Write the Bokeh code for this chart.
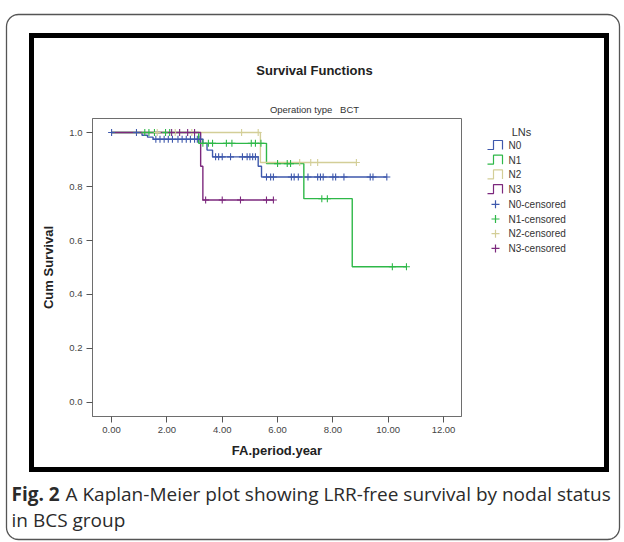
import math
from bokeh.plotting import figure
from bokeh.models import Range1d, FixedTicker, NumeralTickFormatter
from bokeh.core.properties import value
from bokeh.embed import file_html
from bokeh.resources import INLINE

# ---------------- data ----------------
groups = ["N0", "N1", "N2", "N3"]
colors = ["#3e58ac", "#2eb848", "#d3ce97", "#7c287d"]

n0_time = [0.0, 1.10, 1.30, 1.50, 3.30, 3.45, 3.65, 5.30, 5.42]
n0_surv = [1.0, 0.990, 0.983, 0.975, 0.960, 0.935, 0.910, 0.875, 0.835]
n0_end = 9.95
n0_cens = [0.0, 0.9, 1.6, 1.75, 1.9, 2.05, 2.2, 2.4, 2.55, 2.7, 2.85, 3.0,
           3.1, 3.2, 3.76, 3.87, 4.0, 4.3, 4.73, 4.9, 5.0, 5.1, 5.2,
           5.6, 5.75, 5.85, 6.5, 6.6, 6.75, 7.1, 7.45, 7.55, 7.65, 8.0,
           8.1, 8.4, 9.35, 9.45, 9.95]

n1_time = [0.0, 3.15, 5.60, 6.95, 8.70]
n1_surv = [1.0, 0.960, 0.885, 0.755, 0.503]
n1_end = 10.66
n1_cens = [1.2, 1.35, 1.55, 1.95, 2.1, 3.3, 3.5, 3.65, 4.15, 4.35, 5.05,
           5.2, 5.4, 6.0, 6.35, 6.47, 7.6, 7.8, 10.15, 10.66]

n2_time = [0.0, 5.38]
n2_surv = [1.0, 0.889]
n2_end = 8.85
n2_cens = [1.65, 2.3, 2.9, 4.7, 5.3, 6.8, 7.2, 7.45, 8.85]

n3_time = [0.0, 3.22, 3.30]
n3_surv = [1.0, 0.875, 0.75]
n3_end = 5.85
n3_cens = [2.17, 2.46, 2.75, 3.0, 3.4, 4.0, 4.66, 5.6, 5.85]

x_ticks = [0, 2, 4, 6, 8, 10, 12]
y_ticks = [0.0, 0.2, 0.4, 0.6, 0.8, 1.0]

title_text = "Survival Functions"
subtitle_text = "Operation type\u00a0\u00a0\u00a0BCT"
legend_title = "LNs"
legend_names = groups + [g + "-censored" for g in groups]
caption_bold = "Fig. 2"
caption_line1 = "A Kaplan-Meier plot showing LRR-free survival by nodal status"
caption_line2 = "in BCS group"

series = [
    (n0_time, n0_surv, n0_end, n0_cens),
    (n1_time, n1_surv, n1_end, n1_cens),
    (n2_time, n2_surv, n2_end, n2_cens),
    (n3_time, n3_surv, n3_end, n3_cens),
]


def surv_at(times, survs, t):
    s = survs[0]
    for ti, si in zip(times, survs):
        if ti <= t:
            s = si
    return s


# ---------------- chart figure ----------------
FL, FR, FT, FB = 92, 461, 118, 416   # frame edges in window pixels
W, H = 624, 542

p = figure(width=W, height=H, output_backend="svg", toolbar_location=None,
           x_range=Range1d(-0.69, 12.65), y_range=Range1d(-0.052, 1.052),
           min_border_left=FL, min_border_right=W - FR,
           min_border_top=FT, min_border_bottom=H - FB)
p.background_fill_color = "white"
p.border_fill_color = "white"
p.outline_line_color = "#6e6e6e"
p.outline_line_width = 1
p.grid.visible = False

for ax in (p.xaxis[0], p.yaxis[0]):
    ax.axis_line_color = "#6e6e6e"
    ax.major_tick_in = 0
    ax.major_tick_out = 6
    ax.major_tick_line_color = "#555555"
    ax.minor_tick_line_color = None
    ax.major_label_text_font = "Liberation Sans"
    ax.major_label_text_font_size = "9.5px"
    ax.major_label_text_color = "#444444"
    ax.axis_label_text_font = "Liberation Sans"
    ax.axis_label_text_font_size = "13px"
    ax.axis_label_text_font_style = "bold"
    ax.axis_label_text_color = "#222222"
    ax.major_label_standoff = 4

p.xaxis.ticker = FixedTicker(ticks=x_ticks)
p.xaxis.formatter = NumeralTickFormatter(format="0.00")
p.xaxis.axis_label = "FA.period.year"
p.xaxis.axis_label_standoff = 7
p.yaxis.ticker = FixedTicker(ticks=y_ticks)
p.yaxis.formatter = NumeralTickFormatter(format="0.0")
p.yaxis.axis_label = "Cum Survival"
p.yaxis.axis_label_standoff = 10

for (t, s, end, _), c in zip(series, colors):
    p.step(t + [end], s + [s[-1]], mode="after", line_color=c, line_width=1.4)
for (t, s, end, cens), c in zip(series, colors):
    cy = [surv_at(t, s, ct) for ct in cens]
    p.scatter(cens, cy, marker="cross", size=7, line_color=c, line_width=1.1)

# ---------------- overlay figure for frames, titles, legend, caption --------
# pixel-coordinate canvas laid exactly over the chart (y grows downwards)
d = figure(width=W, height=H, output_backend="svg", toolbar_location=None,
           x_range=Range1d(0, W), y_range=Range1d(H, 0),
           x_axis_type=None, y_axis_type=None, min_border=0)
d.background_fill_color = None
d.border_fill_color = None
d.outline_line_color = None
d.grid.visible = False
d.styles = {"position": "absolute", "left": "0px", "top": "0px",
            "pointer-events": "none"}


def rounded(l, r, t, b, rad, n=8):
    xs, ys = [], []
    corners = [(r - rad, t + rad, -90, 0), (r - rad, b - rad, 0, 90),
               (l + rad, b - rad, 90, 180), (l + rad, t + rad, 180, 270)]
    for cx, cy, a0, a1 in corners:
        for k in range(n + 1):
            a = math.radians(a0 + (a1 - a0) * k / n)
            xs.append(cx + rad * math.cos(a))
            ys.append(cy + rad * math.sin(a))
    xs.append(xs[0])
    ys.append(ys[0])
    return xs, ys


rx, ry = rounded(6, 619, 14, 539, 12)
d.line(rx, ry, line_color="#555555", line_width=1.3)
d.quad(left=[31], right=[606], top=[35], bottom=[469], fill_color=None,
       line_color="black", line_width=5, line_join="miter")


def txt(X, Y, s, size, font="Liberation Sans", style="normal",
        color="#222222", align="center"):
    d.text(x=[X], y=[Y], text=[s], text_font=value(font),
           text_font_size=value(size), text_font_style=value(style),
           text_color=color, text_align=value(align),
           text_baseline=value("middle"))


txt(314, 70, title_text, "13px", style="bold")
txt(314, 109, subtitle_text, "9.5px", color="#333333")

# legend
txt(521, 131, legend_title, "11px", color="#333333")
rows = [145, 159.7, 174.4, 189.1, 203.8, 218.5, 233.2, 247.9]
for i, (yc, name) in enumerate(zip(rows, legend_names)):
    c = colors[i % 4]
    if i < 4:
        yb, yt = yc + 4, yc - 5
        d.line([487, 493, 493, 502, 502], [yb, yb, yt, yt, yb],
               line_color=c, line_width=1.2)
    else:
        d.multi_line([[491, 499], [495, 495]], [[yc, yc], [yc - 4, yc + 4]],
                     line_color=c, line_width=1.2)
    txt(508, yc, name, "10px", color="#333333", align="left")

# caption
txt(11, 493, caption_bold, "19px", font="Open Sans", style="bold",
    color="#2b2b2b", align="left")
txt(65, 493, caption_line1, "19px", font="Open Sans", color="#2b2b2b",
    align="left")
txt(11, 519, caption_line2, "19px", font="Open Sans", color="#2b2b2b",
    align="left")

open("out.html", "w").write(file_html([p, d], INLINE))
